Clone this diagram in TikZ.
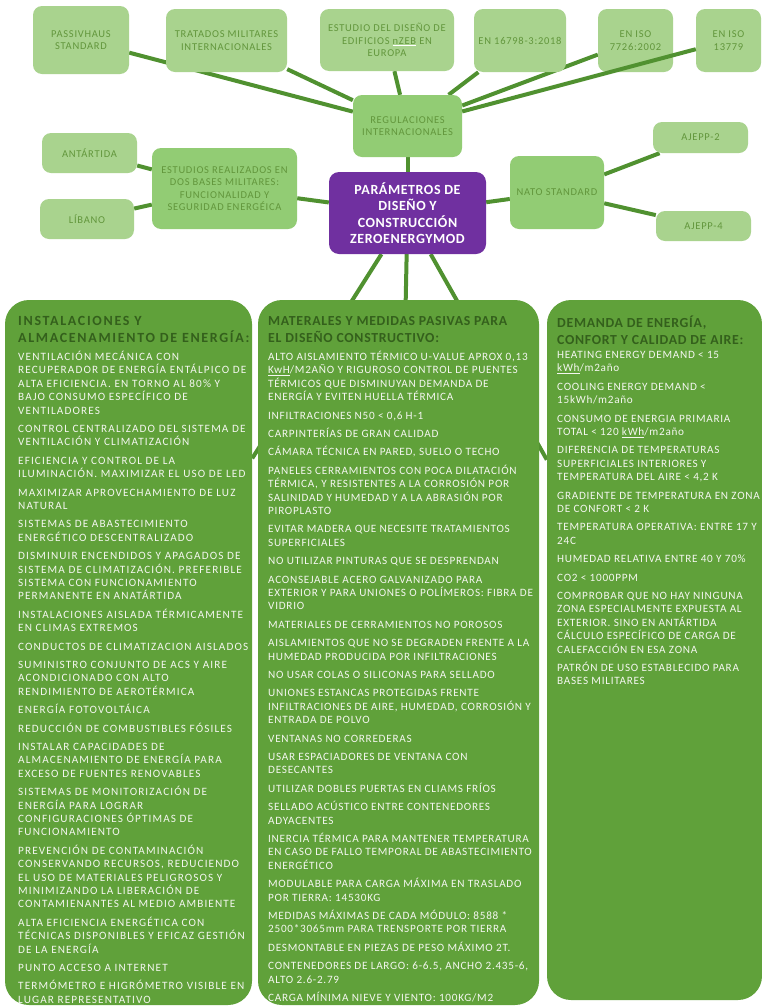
\documentclass[tikz,border=0pt]{standalone}
\usepackage{fontspec}
\setmainfont{Carlito}
\newfontfamily\wideface{Carlito}[LetterSpace=10]
\newfontfamily\wideheadface{Carlito}[LetterSpace=12]
\newfontfamily\panelface{Carlito}[LetterSpace=6.5]
\newfontfamily\headface{Carlito}[LetterSpace=5]
\newfontfamily\boxface{Carlito}[LetterSpace=7]
\newfontfamily\hubface{Carlito}[LetterSpace=4]
\pgfdeclarelayer{background}
\pgfsetlayers{background,main}
\definecolor{leafgreen}{RGB}{169,211,142}
\definecolor{midgreen}{RGB}{146,204,116}
\definecolor{panelgreen}{RGB}{96,161,58}
\definecolor{linkgreen}{RGB}{80,145,48}
\definecolor{boxtext}{RGB}{98,150,60}
\definecolor{headtext}{RGB}{52,96,28}
\definecolor{bodytext}{RGB}{244,246,240}
\definecolor{hubpurple}{RGB}{112,48,160}
\begin{document}
\begin{tikzpicture}[x=1pt,y=-1pt,
  box/.style={rounded corners=9pt, inner sep=0pt, align=center, text=boxtext,
    font=\boxface\fontsize{10.5}{12.5}\selectfont},
  leaf/.style={box, fill=leafgreen},
  branch/.style={box, fill=midgreen},
  hub/.style={rounded corners=10pt, inner sep=0pt, fill=hubpurple, text=white, align=center,
    font=\hubface\bfseries\fontsize{14}{16.5}\selectfont},
  panel/.style={rounded corners=24pt, inner sep=0pt, fill=panelgreen},
  link/.style={draw=linkgreen, line width=4pt},
  head/.style={anchor=north west, inner sep=0pt, align=left, text=headtext,
    font=\headface\bfseries\fontsize{13.8}{17}\selectfont},
  body/.style={anchor=north west, inner sep=0pt, align=left, text=bodytext,
    font=\panelface\fontsize{11.2}{13.4}\selectfont},
  widehead/.style={head, font=\wideheadface\bfseries\fontsize{14}{17}\selectfont},
  widebody/.style={body, font=\wideface\fontsize{11.2}{13.4}\selectfont},
]
\useasboundingbox (0,0) rectangle (762,1007);
\begin{pgfonlayer}{background}
  \fill[white] (0,0) rectangle (762,1007);
\end{pgfonlayer}

% top row of standards
\node[leaf, minimum width=96pt, minimum height=68pt] (passiv) at (81,40) {PASSIVHAUS\\STANDARD};
\node[leaf, minimum width=121pt, minimum height=63pt] (tratados) at (226.5,40.5) {TRATADOS MILITARES\\INTERNACIONALES};
\node[leaf, minimum width=134pt, minimum height=62pt] (estudio) at (387,40)
  {ESTUDIO DEL DISEÑO DE\\EDIFICIOS {\color{white}\underline{\color{boxtext}nZEB}} EN\\EUROPA};
\node[leaf, minimum width=92pt, minimum height=63pt] (en16798) at (520,40.5) {EN 16798-3:2018};
\node[leaf, minimum width=75pt, minimum height=63pt] (iso7726) at (635.5,40.5) {EN ISO\\7726:2002};
\node[leaf, minimum width=65pt, minimum height=63pt] (iso13779) at (728.5,40.5) {EN ISO\\13779};

% second level
\node[branch, minimum width=109pt, minimum height=62pt] (reg) at (407.5,126) {REGULACIONES\\INTERNACIONALES};
\node[branch, minimum width=145pt, minimum height=81pt] (estudios) at (224.5,188.5)
  {ESTUDIOS REALIZADOS EN\\DOS BASES MILITARES:\\FUNCIONALIDAD Y\\SEGURIDAD ENERGÉICA};
\node[branch, minimum width=94pt, minimum height=73pt] (nato) at (557,192.5) {NATO STANDARD};
\node[leaf, minimum width=95pt, minimum height=40pt] (antartida) at (89.5,153) {ANTÁRTIDA};
\node[leaf, minimum width=94pt, minimum height=40pt] (libano) at (87,219) {LÍBANO};
\node[leaf, minimum width=95pt, minimum height=31pt] (ajepp2) at (700.5,137.5) {AJEPP-2};
\node[leaf, minimum width=95pt, minimum height=30pt] (ajepp4) at (703.5,226) {AJEPP-4};

% central topic
\node[hub, minimum width=157pt, minimum height=82pt] (hub) at (407.5,213)
  {PARÁMETROS DE\\DISEÑO Y\\CONSTRUCCIÓN\\ZEROENERGYMOD};

% three requirement panels
\node[panel, minimum width=247pt, minimum height=705pt] (left) at (128.5,652.5) {};
\node[panel, minimum width=281pt, minimum height=705pt] (mid) at (398.5,652.5) {};
\node[panel, minimum width=215pt, minimum height=700pt] (right) at (654.5,650) {};

% connectors, kept behind the boxes
\begin{pgfonlayer}{background}
  \draw[link] (reg) -- (passiv);
  \draw[link] (reg) -- (tratados);
  \draw[link] (reg) -- (estudio);
  \draw[link] (reg) -- (en16798);
  \draw[link] (reg) -- (iso7726);
  \draw[link] (hub) -- (reg);
  \draw[link] (hub) -- (estudios);
  \draw[link] (estudios) -- (antartida);
  \draw[link] (estudios) -- (libano);
  \draw[link] (hub) -- (nato);
  \draw[link] (nato) -- (ajepp2);
  \draw[link] (nato) -- (ajepp4);
  \draw[link] (hub) -- (left);
  \draw[link] (hub) -- (mid);
  \draw[link] (hub) -- (right);
\end{pgfonlayer}
\draw[link] (reg) -- (iso13779);

% panel texts
\node[widehead] (lefthead) at (18,316) {INSTALACIONES Y\\ALMACENAMIENTO DE ENERGÍA:};
\node[widebody] (leftbody) at (18,351) {%
VENTILACIÓN MECÁNICA CON\\
RECUPERADOR DE ENERGÍA ENTÁLPICO DE\\
ALTA EFICIENCIA. EN TORNO AL 80\% Y\\
BAJO CONSUMO ESPECÍFICO DE\\
VENTILADORES\\[5pt]
CONTROL CENTRALIZADO DEL SISTEMA DE\\
VENTILACIÓN Y CLIMATIZACIÓN\\[5pt]
EFICIENCIA Y CONTROL DE LA\\
ILUMINACIÓN. MAXIMIZAR EL USO DE LED\\[5pt]
MAXIMIZAR APROVECHAMIENTO DE LUZ\\
NATURAL\\[5pt]
SISTEMAS DE ABASTECIMIENTO\\
ENERGÉTICO DESCENTRALIZADO\\[5pt]
DISMINUIR ENCENDIDOS Y APAGADOS DE\\
SISTEMA DE CLIMATIZACIÓN. PREFERIBLE\\
SISTEMA CON FUNCIONAMIENTO\\
PERMANENTE EN ANATÁRTIDA\\[5pt]
INSTALACIONES AISLADA TÉRMICAMENTE\\
EN CLIMAS EXTREMOS\\[5pt]
CONDUCTOS DE CLIMATIZACION AISLADOS\\[5pt]
SUMINISTRO CONJUNTO DE ACS Y AIRE\\
ACONDICIONADO CON ALTO\\
RENDIMIENTO DE AEROTÉRMICA\\[5pt]
ENERGÍA FOTOVOLTÁICA\\[5pt]
REDUCCIÓN DE COMBUSTIBLES FÓSILES\\[5pt]
INSTALAR CAPACIDADES DE\\
ALMACENAMIENTO DE ENERGÍA PARA\\
EXCESO DE FUENTES RENOVABLES\\[5pt]
SISTEMAS DE MONITORIZACIÓN DE\\
ENERGÍA PARA LOGRAR\\
CONFIGURACIONES ÓPTIMAS DE\\
FUNCIONAMIENTO\\[5pt]
PREVENCIÓN DE CONTAMINACIÓN\\
CONSERVANDO RECURSOS, REDUCIENDO\\
EL USO DE MATERIALES PELIGROSOS Y\\
MINIMIZANDO LA LIBERACIÓN DE\\
CONTAMIENANTES AL MEDIO AMBIENTE\\[5pt]
ALTA EFICIENCIA ENERGÉTICA CON\\
TÉCNICAS DISPONIBLES Y EFICAZ GESTIÓN\\
DE LA ENERGÍA\\[5pt]
PUNTO ACCESO A INTERNET\\[5pt]
TERMÓMETRO E HIGRÓMETRO VISIBLE EN\\
LUGAR REPRESENTATIVO};

\node[head] (midhead) at (268,316) {MATERALES Y MEDIDAS PASIVAS PARA\\EL DISEÑO CONSTRUCTIVO:};
\node[body] (midbody) at (268,351) {%
ALTO AISLAMIENTO TÉRMICO U-VALUE APROX 0,13\\
\underline{KwH}/M2AÑO Y RIGUROSO CONTROL DE PUENTES\\
TÉRMICOS QUE DISMINUYAN DEMANDA DE\\
ENERGÍA Y EVITEN HUELLA TÉRMICA\\[5pt]
INFILTRACIONES N50 < 0,6 H-1\\[5pt]
CARPINTERÍAS DE GRAN CALIDAD\\[5pt]
CÁMARA TÉCNICA EN PARED, SUELO O TECHO\\[5pt]
PANELES CERRAMIENTOS CON POCA DILATACIÓN\\
TÉRMICA, Y RESISTENTES A LA CORROSIÓN POR\\
SALINIDAD Y HUMEDAD Y A LA ABRASIÓN POR\\
PIROPLASTO\\[5pt]
EVITAR MADERA QUE NECESITE TRATAMIENTOS\\
SUPERFICIALES\\[5pt]
NO UTILIZAR PINTURAS QUE SE DESPRENDAN\\[5pt]
ACONSEJABLE ACERO GALVANIZADO PARA\\
EXTERIOR Y PARA UNIONES O POLÍMEROS: FIBRA DE\\
VIDRIO\\[5pt]
MATERIALES DE CERRAMIENTOS NO POROSOS\\[5pt]
AISLAMIENTOS QUE NO SE DEGRADEN FRENTE A LA\\
HUMEDAD PRODUCIDA POR INFILTRACIONES\\[5pt]
NO USAR COLAS O SILICONAS PARA SELLADO\\[5pt]
UNIONES ESTANCAS PROTEGIDAS FRENTE\\
INFILTRACIONES DE AIRE, HUMEDAD, CORROSIÓN Y\\
ENTRADA DE POLVO\\[5pt]
VENTANAS NO CORREDERAS\\[5pt]
USAR ESPACIADORES DE VENTANA CON\\
DESECANTES\\[5pt]
UTILIZAR DOBLES PUERTAS EN CLIAMS FRÍOS\\[5pt]
SELLADO ACÚSTICO ENTRE CONTENEDORES\\
ADYACENTES\\[5pt]
INERCIA TÉRMICA PARA MANTENER TEMPERATURA\\
EN CASO DE FALLO TEMPORAL DE ABASTECIMIENTO\\
ENERGÉTICO\\[5pt]
MODULABLE PARA CARGA MÁXIMA EN TRASLADO\\
POR TIERRA: 14530KG\\[5pt]
MEDIDAS MÁXIMAS DE CADA MÓDULO: 8588 *\\
2500*3065mm PARA TRENSPORTE POR TIERRA\\[5pt]
DESMONTABLE EN PIEZAS DE PESO MÁXIMO 2T.\\[5pt]
CONTENEDORES DE LARGO: 6-6.5, ANCHO 2.435-6,\\
ALTO 2.6-2.79\\[5pt]
CARGA MÍNIMA NIEVE Y VIENTO: 100KG/M2};

\node[head] (righthead) at (557,316) {DEMANDA DE ENERGÍA,\\CONFORT Y CALIDAD DE AIRE:};
\node[body] (rightbody) at (557,351) {%
HEATING ENERGY DEMAND < 15\\
\underline{kWh}/m2año\\[5pt]
COOLING ENERGY DEMAND <\\
15kWh/m2año\\[5pt]
CONSUMO DE ENERGIA PRIMARIA\\
TOTAL < 120 \underline{kWh}/m2año\\[5pt]
DIFERENCIA DE TEMPERATURAS\\
SUPERFICIALES INTERIORES Y\\
TEMPERATURA DEL AIRE < 4,2 K\\[5pt]
GRADIENTE DE TEMPERATURA EN ZONA\\
DE CONFORT < 2 K\\[5pt]
TEMPERATURA OPERATIVA: ENTRE 17 Y\\
24C\\[5pt]
HUMEDAD RELATIVA ENTRE 40 Y 70\%\\[5pt]
CO2 < 1000PPM\\[5pt]
COMPROBAR QUE NO HAY NINGUNA\\
ZONA ESPECIALMENTE EXPUESTA AL\\
EXTERIOR. SINO EN ANTÁRTIDA\\
CÁLCULO ESPECÍFICO DE CARGA DE\\
CALEFACCIÓN EN ESA ZONA\\[5pt]
PATRÓN DE USO ESTABLECIDO PARA\\
BASES MILITARES};
\end{tikzpicture}
\end{document}
